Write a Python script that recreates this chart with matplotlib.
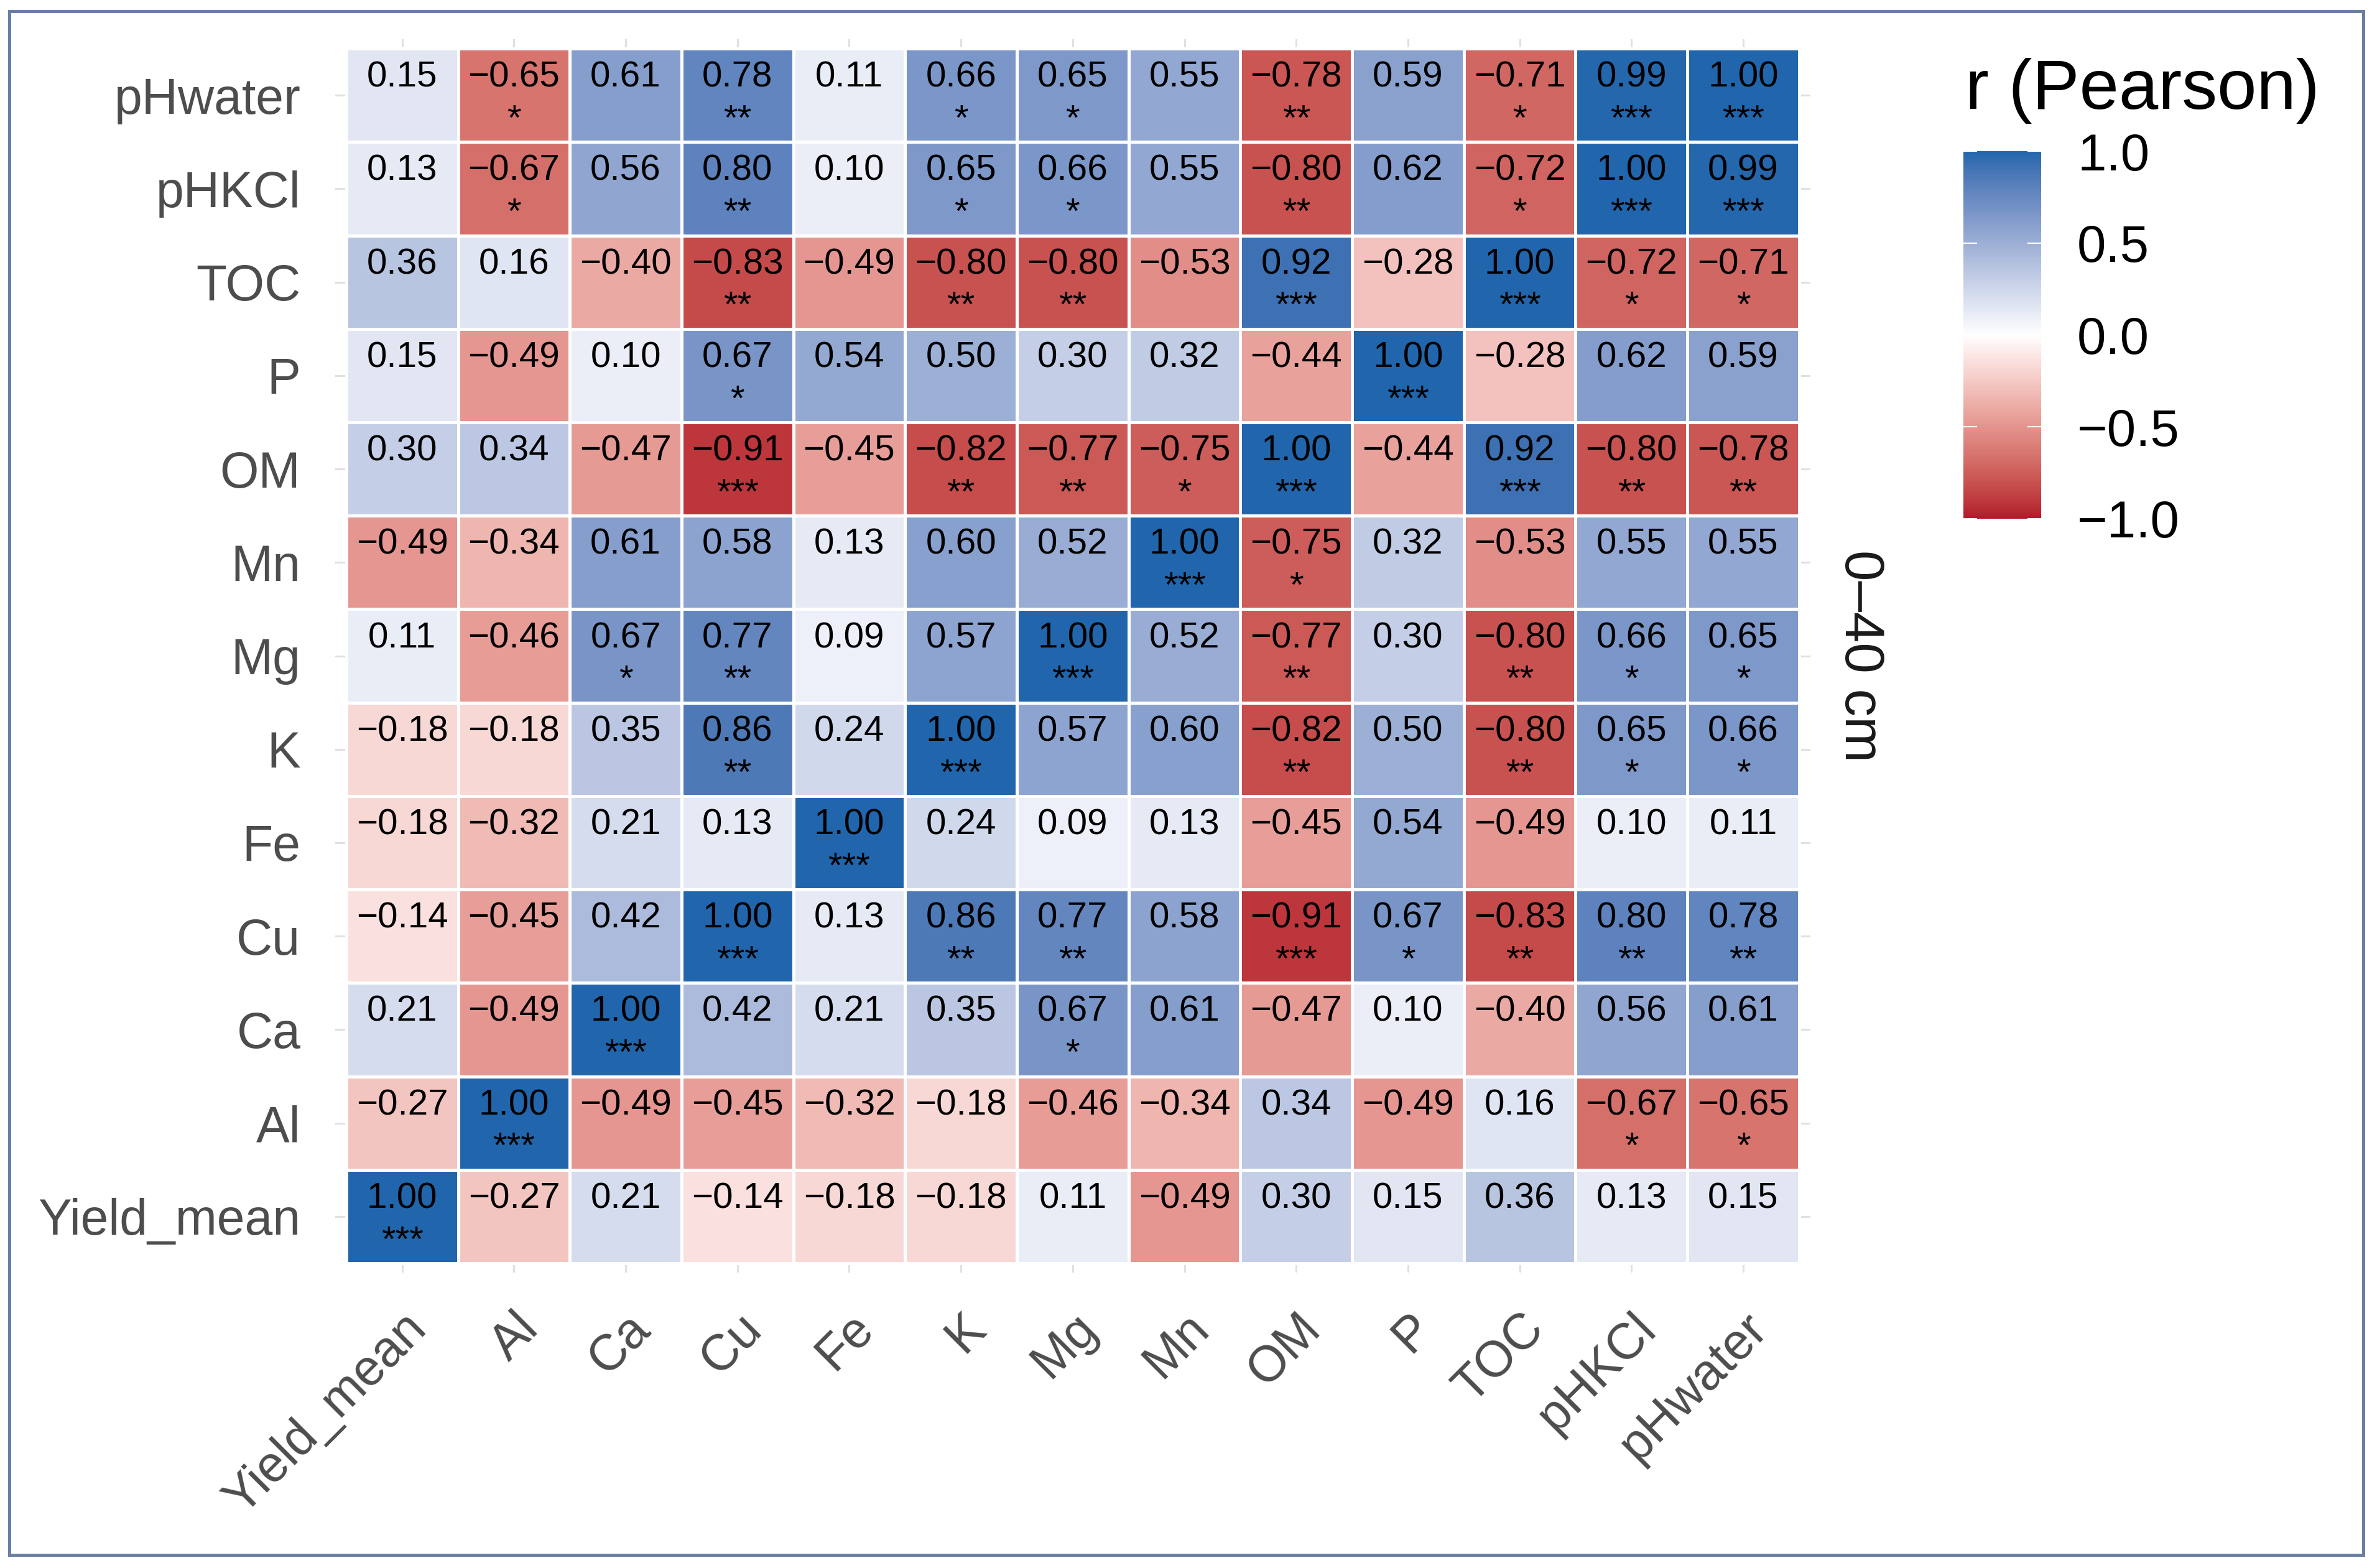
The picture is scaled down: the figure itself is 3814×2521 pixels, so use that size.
import numpy as np
import matplotlib.pyplot as plt
from matplotlib.colors import ListedColormap, to_rgb
from matplotlib.patches import Rectangle

plt.rcParams['font.family'] = ['Liberation Sans', 'DejaVu Sans']

# Variables, bottom-to-top on y and left-to-right on x
variables = ["Yield_mean", "Al", "Ca", "Cu", "Fe", "K", "Mg", "Mn",
             "OM", "P", "TOC", "pHKCl", "pHwater"]

# Pearson r, one row per variable (same order as `variables`)
r_values = [
    [1.00, -0.27, 0.21, -0.14, -0.18, -0.18, 0.11, -0.49, 0.30, 0.15, 0.36, 0.13, 0.15],
    [-0.27, 1.00, -0.49, -0.45, -0.32, -0.18, -0.46, -0.34, 0.34, -0.49, 0.16, -0.67, -0.65],
    [0.21, -0.49, 1.00, 0.42, 0.21, 0.35, 0.67, 0.61, -0.47, 0.10, -0.40, 0.56, 0.61],
    [-0.14, -0.45, 0.42, 1.00, 0.13, 0.86, 0.77, 0.58, -0.91, 0.67, -0.83, 0.80, 0.78],
    [-0.18, -0.32, 0.21, 0.13, 1.00, 0.24, 0.09, 0.13, -0.45, 0.54, -0.49, 0.10, 0.11],
    [-0.18, -0.18, 0.35, 0.86, 0.24, 1.00, 0.57, 0.60, -0.82, 0.50, -0.80, 0.65, 0.66],
    [0.11, -0.46, 0.67, 0.77, 0.09, 0.57, 1.00, 0.52, -0.77, 0.30, -0.80, 0.66, 0.65],
    [-0.49, -0.34, 0.61, 0.58, 0.13, 0.60, 0.52, 1.00, -0.75, 0.32, -0.53, 0.55, 0.55],
    [0.30, 0.34, -0.47, -0.91, -0.45, -0.82, -0.77, -0.75, 1.00, -0.44, 0.92, -0.80, -0.78],
    [0.15, -0.49, 0.10, 0.67, 0.54, 0.50, 0.30, 0.32, -0.44, 1.00, -0.28, 0.62, 0.59],
    [0.36, 0.16, -0.40, -0.83, -0.49, -0.80, -0.80, -0.53, 0.92, -0.28, 1.00, -0.72, -0.71],
    [0.13, -0.67, 0.56, 0.80, 0.10, 0.65, 0.66, 0.55, -0.80, 0.62, -0.72, 1.00, 0.99],
    [0.15, -0.65, 0.61, 0.78, 0.11, 0.66, 0.65, 0.55, -0.78, 0.59, -0.71, 0.99, 1.00],
]

# Significance stars, same layout
stars = [
    ["***", "", "", "", "", "", "", "", "", "", "", "", ""],
    ["", "***", "", "", "", "", "", "", "", "", "", "*", "*"],
    ["", "", "***", "", "", "", "*", "", "", "", "", "", ""],
    ["", "", "", "***", "", "**", "**", "", "***", "*", "**", "**", "**"],
    ["", "", "", "", "***", "", "", "", "", "", "", "", ""],
    ["", "", "", "**", "", "***", "", "", "**", "", "**", "*", "*"],
    ["", "", "*", "**", "", "", "***", "", "**", "", "**", "*", "*"],
    ["", "", "", "", "", "", "", "***", "*", "", "", "", ""],
    ["", "", "", "***", "", "**", "**", "*", "***", "", "***", "**", "**"],
    ["", "", "", "*", "", "", "", "", "", "***", "", "", ""],
    ["", "", "", "**", "", "**", "**", "", "***", "", "***", "*", "*"],
    ["", "*", "", "**", "", "*", "*", "", "**", "", "*", "***", "***"],
    ["", "*", "", "**", "", "*", "*", "", "**", "", "*", "***", "***"],
]

cbar_ticks = [-1.0, -0.5, 0.0, 0.5, 1.0]


# -------------------------------------------------------------------
# Diverging palette interpolated in CIE Lab (like ggplot's gradient2)
M = np.array([[0.4124, 0.3576, 0.1805],
              [0.2126, 0.7152, 0.0722],
              [0.0193, 0.1192, 0.9505]])
WHITE = M @ np.ones(3)
D = 6 / 29


def rgb_to_lab(rgb):
    c = np.asarray(rgb, dtype=float)
    lin = np.where(c <= 0.04045, c / 12.92, ((c + 0.055) / 1.055) ** 2.4)
    xyz = (M @ lin) / WHITE
    f = np.where(xyz > D ** 3, np.cbrt(xyz), xyz / (3 * D ** 2) + 4 / 29)
    return np.array([116 * f[1] - 16, 500 * (f[0] - f[1]), 200 * (f[1] - f[2])])


def lab_to_rgb(lab):
    L, a, b = lab
    fy = (L + 16) / 116
    f = np.array([fy + a / 500, fy, fy - b / 200])
    xyz = np.where(f > D, f ** 3, 3 * D ** 2 * (f - 4 / 29)) * WHITE[:, None]
    lin = np.clip(np.linalg.inv(M) @ xyz, 0, None)
    c = np.where(lin <= 0.0031308, 12.92 * lin, 1.055 * lin ** (1 / 2.4) - 0.055)
    return np.clip(c, 0, 1)


lab_low = rgb_to_lab(to_rgb("#B2182B"))
lab_mid = rgb_to_lab(to_rgb("#FFFFFF"))
lab_high = rgb_to_lab(to_rgb("#2166AC"))

t = np.linspace(-1, 1, 511)
lab = np.where(t < 0,
               lab_mid[:, None] + (-t) * (lab_low - lab_mid)[:, None],
               lab_mid[:, None] + t * (lab_high - lab_mid)[:, None])
cmap = ListedColormap(lab_to_rgb(lab).T)


# -------------------------------------------------------------------
fig = plt.figure(figsize=(38.14, 25.21), dpi=100)
ax = fig.add_axes([0.1413, 0.1884, 0.6219, 0.7866])

R = np.array(r_values)
edges = np.arange(-0.5, len(variables), 1.0)
mesh = ax.pcolormesh(edges, edges, R, cmap=cmap, vmin=-1, vmax=1,
                     edgecolors='white', linewidth=3.6, zorder=2)

# value + stars in every tile
for i in range(len(variables)):
    for j in range(len(variables)):
        txt = f"{R[i, j]:.2f}".replace("-", "\u2212")
        ax.text(j, i + 0.09, txt, ha='center', va='baseline',
                fontsize=42, color='black', zorder=3)
        if stars[i][j]:
            ax.text(j, i - 0.37, stars[i][j], ha='center', va='baseline',
                    fontsize=42, color='black', zorder=3)

ax.set_xlim(-0.6, len(variables) - 0.4)
ax.set_ylim(-0.6, len(variables) - 0.4)
ax.set_xticks(range(len(variables)))
ax.set_xticklabels(variables, rotation=45, ha='right', va='top',
                   rotation_mode='anchor')
ax.set_yticks(range(len(variables)))
ax.set_yticklabels(variables)
ax.tick_params(length=0, labelsize=58, labelcolor='#4d4d4d')
ax.tick_params(axis='y', pad=40)
ax.tick_params(axis='x', pad=37)

# faint panel grid, only visible in the margin around the tiles
ax.grid(True, color='#e0e0e0', linewidth=2.2, zorder=0)
ax.set_axisbelow(True)
for s in ax.spines.values():
    s.set_visible(False)

# facet strip label on the right
fig.text(2990 / 3814, 1 - 1055 / 2521, "0\u201340 cm", rotation=270,
         fontsize=64, ha='center', va='center', color='#1a1a1a')

# colour bar legend
cax = fig.add_axes([0.8277, 0.6692, 0.03277, 0.2344])
cb = fig.colorbar(mesh, cax=cax, ticks=cbar_ticks)
cb.outline.set_visible(False)
cb.ax.set_yticklabels([f"{v:.1f}".replace("-", "\u2212") for v in cbar_ticks])
cax.tick_params(axis='y', direction='in', length=16, width=1.5, color='white',
                left=True, right=True, labelleft=False, labelright=True,
                labelsize=60, labelcolor='black', pad=42)
fig.text(3160 / 3814, 1 - 175 / 2521, "r (Pearson)", fontsize=82,
         ha='left', va='baseline', color='black')

# thin frame around the whole figure
fig.add_artist(Rectangle((15 / 3814, 21 / 2521), 3785 / 3814, 2482 / 2521,
                         transform=fig.transFigure, fill=False,
                         edgecolor='#6b7fa3', linewidth=3.6))

fig.savefig("out.png", dpi=100)
plt.close(fig)
